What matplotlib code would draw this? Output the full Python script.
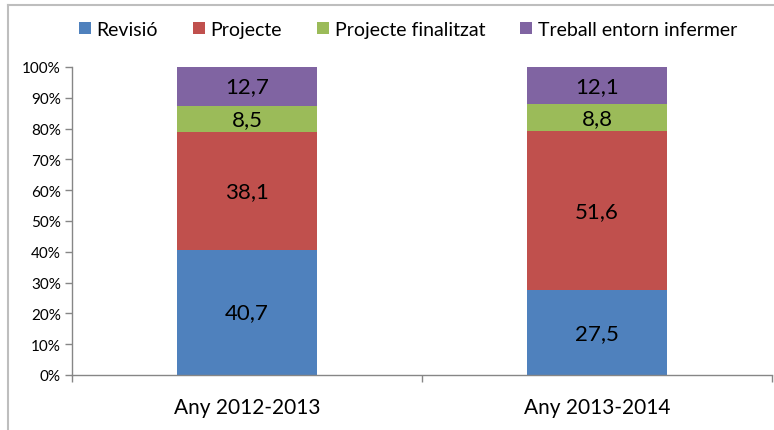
import matplotlib.pyplot as plt
from matplotlib.lines import Line2D
import numpy as np

categories = ["Any 2012-2013", "Any 2013-2014"]
series = ["Revisió", "Projecte", "Projecte finalitzat", "Treball entorn infermer"]
revisio = [40.7, 27.5]
projecte = [38.1, 51.6]
finalitzat = [8.5, 8.8]
treball = [12.7, 12.1]
colors = ["#4F81BD", "#C0504D", "#9BBB59", "#8064A2"]

plt.rcParams['font.family'] = ['Lato', 'DejaVu Sans']

fig = plt.figure(figsize=(7.74, 4.31), dpi=100)
ax = fig.add_axes([72/774, 1-376/431, (772-72)/774, (376-68)/431])

x = np.arange(len(categories))
bottom = np.zeros(len(categories))
for name, vals, c in zip(series, [revisio, projecte, finalitzat, treball], colors):
    vals = np.array(vals)
    ax.bar(x, vals, 0.4, bottom=bottom, color=c, label=name, zorder=2)
    for xi, v, b in zip(x, vals, bottom):
        ax.text(xi, b + v/2, f"{v:.1f}".replace(".", ","), ha="center", va="center",
                fontsize=16, color="black", zorder=3)
    bottom += vals

ax.set_xlim(-0.5, 1.5)
ax.set_ylim(0, 100)
ax.set_yticks(np.arange(0, 101, 10))
ax.set_yticklabels([f"{t}%" for t in range(0, 101, 10)], fontsize=11)
ax.set_xticks(x)
ax.set_xticklabels(categories, fontsize=15)
ax.set_xticks([-0.5, 0.5, 1.5], minor=True)
ax.tick_params(axis="x", which="major", length=0, pad=16)
ax.tick_params(axis="x", which="minor", length=5, color="#868686", width=1)
ax.tick_params(axis="y", length=5, color="#868686", width=1, pad=3)
for s in ["top", "right"]:
    ax.spines[s].set_visible(False)
for s in ["left", "bottom"]:
    ax.spines[s].set_color("#868686")
    ax.spines[s].set_linewidth(1)

ax.legend(loc="center", bbox_to_anchor=(0.48, 1.123), ncol=4, frameon=False,
          fontsize=14, handlelength=0.6, handleheight=0.6, handletextpad=0.3,
          columnspacing=1.8)

# outer chart border
fig.add_artist(Line2D([8/774, 8/774], [0, 1-6/431], color="#BEBEBE", lw=1.5, transform=fig.transFigure))
fig.add_artist(Line2D([8/774, 1], [1-6/431, 1-6/431], color="#BEBEBE", lw=1.5, transform=fig.transFigure))

fig.savefig("out.png", dpi=100)
